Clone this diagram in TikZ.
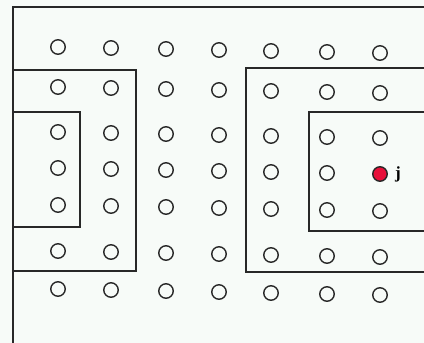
\documentclass[tikz,border=0pt]{standalone}
\usepackage{fontspec}
\usepackage{xcolor}
\usepackage{tikz}
\usetikzlibrary{positioning}

\newfontfamily\labelfont{Liberation Serif}
\definecolor{paper}{RGB}{247,251,248}
\definecolor{ink}{RGB}{40,40,40}
\definecolor{hotred}{RGB}{232,16,58}

\begin{document}
\begin{tikzpicture}[
  x=1pt, y=-1pt,
  site/.style={circle, draw=ink, line width=1.4pt, minimum size=14.5pt, inner sep=0pt, fill=paper},
  hot/.style={site, fill=hotred},
  zone/.style={draw=ink, line width=1.8pt}
]
  \fill[paper] (0,0) rectangle (424,343);
  \useasboundingbox (0,0) rectangle (424,343);

  % outer frame, then two nested zones on each side
  \draw[zone] (13,343) -- (13,7) -- (424,7);
  \draw[zone] (13,70) -- (136,70) -- (136,271) -- (13,271);
  \draw[zone] (13,112) -- (80,112) -- (80,227) -- (13,227);
  \draw[zone] (424,68) -- (246,68) -- (246,272) -- (424,272);
  \draw[zone] (424,112) -- (309,112) -- (309,231) -- (424,231);

  % lattice sites
  \foreach \y [count=\r] in {47,87,132,168,205,251,289}
    \foreach \x [count=\c] in {58,111,166,219,271,327,380}{
      \ifnum\r\c=47 \def\kind{hot}\else\def\kind{site}\fi
      \node[\kind] (s\r\c) at (\x,\y+\c-1) {};
    }

  \node[right=7pt of s47, inner sep=0pt, font=\labelfont\bfseries\fontsize{17}{17}\selectfont] (jlab) {j};
\end{tikzpicture}
\end{document}
